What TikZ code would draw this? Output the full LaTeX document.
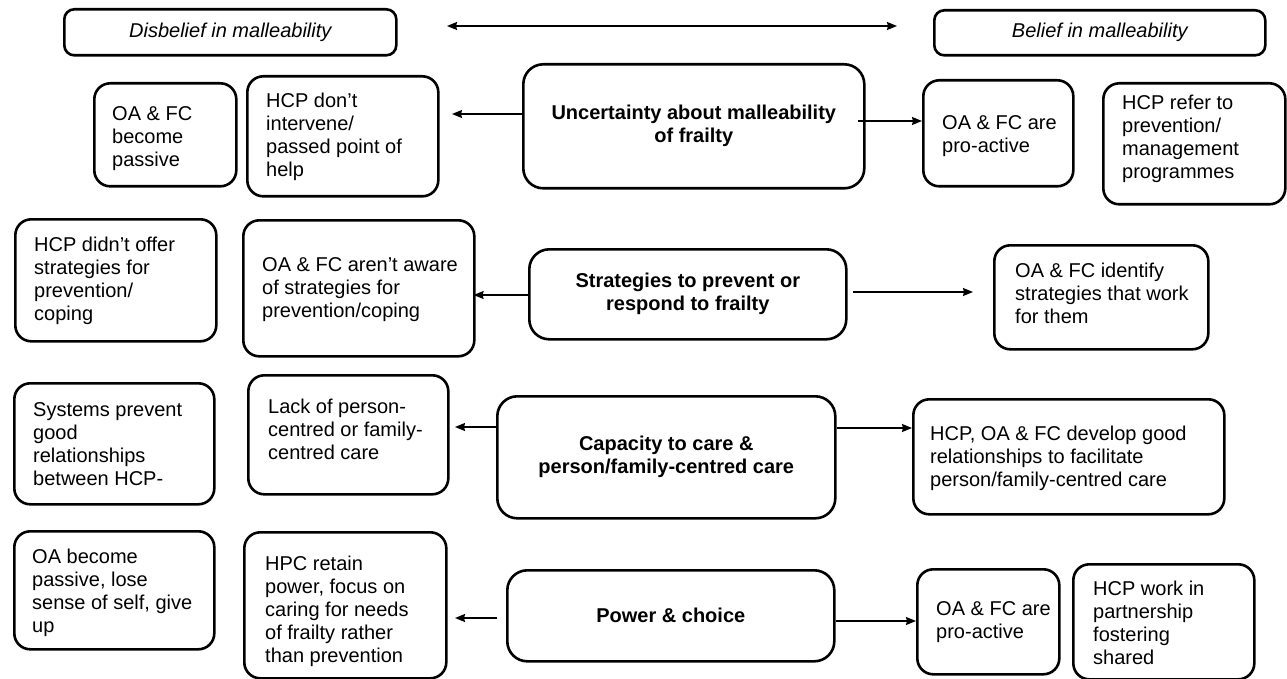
\documentclass[tikz,border=0pt]{standalone}
\usepackage{fontspec}
\setmainfont{Liberation Sans}
\usetikzlibrary{arrows.meta}
\tikzset{
 box/.style={draw, line width=2.6pt, rounded corners=16pt, inner sep=0pt, anchor=north west},
 hdr/.style={box, rounded corners=10pt, font=\fontsize{20}{23}\selectfont\itshape},
 core/.style={box, rounded corners=20pt, align=center, font=\fontsize{20}{23}\selectfont\bfseries},
 txt/.style={anchor=west, align=left, inner sep=0pt, font=\fontsize{20}{23}\selectfont},
 tip/.tip={Stealth[length=10pt,width=8pt,inset=1pt]},
 arr/.style={line width=1.5pt, -tip},
 dbl/.style={line width=1.5pt, tip-tip},
}
\begin{document}
\begin{tikzpicture}[x=1pt,y=1pt]
\useasboundingbox (0,0) rectangle (1287,-679);

% headers
\node[hdr, minimum width=332pt, minimum height=46pt] (dis) at (63,-8) {Disbelief in malleability};
\node[hdr, minimum width=331pt, minimum height=45pt] (bel) at (933,-9) {Belief in malleability};
\coordinate (hl) at (447,-26);
\coordinate (hr) at (897,-26);
\draw[dbl] (hl) -- (hr);

% row 1
\node[box, minimum width=142pt, minimum height=103pt] (r1a) at (93,-82) {};
\node[txt] (r1at) at (112,-139) {OA \& FC\\become\\passive};
\node[box, minimum width=191pt, minimum height=120pt] (r1b) at (246,-75) {};
\node[txt] (r1bt) at (266,-137) {HCP don’t\\intervene/\\passed point of\\help};
\node[core, minimum width=341pt, minimum height=124pt] (unc) at (522,-63) {Uncertainty about malleability\\of frailty};
\node[box, minimum width=150pt, minimum height=106pt] (r1c) at (922,-79) {};
\node[txt] (r1ct) at (942,-136) {OA \& FC are\\pro-active};
\node[box, minimum width=182pt, minimum height=121pt] (r1d) at (1102,-82) {};
\node[txt] (r1dt) at (1122,-139) {HCP refer to\\prevention/\\management\\programmes};

\coordinate (a1e) at (452,-114);
\draw[arr] (unc.west |- a1e) -- (a1e);
\coordinate (a2s) at (858,-121);
\draw[arr] (a2s) -- (r1c.west |- a2s);

% row 2
\node[box, minimum width=201pt, minimum height=122pt] (r2a) at (14,-218) {};
\node[txt] (r2at) at (34,-281) {HCP didn’t offer\\strategies for\\prevention/\\coping};
\node[box, minimum width=231pt, minimum height=136pt] (r2b) at (242,-219) {};
\node[txt] (r2bt) at (262,-290) {OA \& FC aren’t aware\\of strategies for\\prevention/coping};
\node[core, minimum width=317pt, minimum height=90pt] (strat) at (528,-248) {Strategies to prevent or\\respond to frailty};
\node[box, minimum width=214pt, minimum height=104pt] (r2c) at (993,-244) {};
\node[txt] (r2ct) at (1015,-293) {OA \& FC identify\\strategies that work\\for them};

\draw[arr] (strat.west |- 0,-295) -- ([xshift=-2pt]r2b.east |- 0,-295);
\coordinate (b2s) at (853,-292);
\coordinate (b2e) at (973,-292);
\draw[arr] (b2s) -- (b2e);

% row 3
\node[box, minimum width=200pt, minimum height=121pt] (r3a) at (13,-382) {};
\node[txt] (r3at) at (33,-444) {Systems prevent\\good\\relationships\\between HCP-};
\node[box, minimum width=200pt, minimum height=119pt] (r3b) at (247,-374) {};
\node[txt] (r3bt) at (268,-429) {Lack of person-\\centred or family-\\centred care};
\node[core, minimum width=338pt, minimum height=122pt] (cap) at (496,-395) {Capacity to care \&\\person/family-centred care};
\node[box, minimum width=311pt, minimum height=115pt] (r3c) at (912,-398) {};
\node[txt] (r3ct) at (930,-458) {HCP, OA \& FC develop good\\relationships to facilitate\\person/family-centred care};

\coordinate (c1e) at (455,-427);
\draw[arr] (cap.west |- c1e) -- (c1e);
\draw[arr] (cap.east |- 0,-428) -- (r3c.west |- 0,-428);

% row 4
\node[box, minimum width=200pt, minimum height=118pt] (r4a) at (13,-530) {};
\node[txt] (r4at) at (32,-593) {OA become\\passive, lose\\sense of self, give\\up};
\node[box, minimum width=202pt, minimum height=146pt] (r4b) at (243,-531) {};
\node[txt] (r4bt) at (265,-611) {HPC retain\\power, focus on\\caring for needs\\of frailty rather\\than prevention};
\node[core, minimum width=327pt, minimum height=91pt] (power) at (506,-569) {Power \& choice};
\node[box, minimum width=142pt, minimum height=105pt] (r4c) at (916,-568) {};
\node[txt] (r4ct) at (936,-622) {OA \& FC are\\pro-active};
\node[box, minimum width=181pt, minimum height=115pt] (r4d) at (1072,-563) {};
\node[txt] (r4dt) at (1093,-623) {HCP work in\\partnership\\fostering\\shared};

\coordinate (d1s) at (497,-618);
\coordinate (d1e) at (455,-618);
\draw[arr] (d1s) -- (d1e);
\draw[arr] (power.east |- 0,-621) -- (r4c.west |- 0,-621);
\end{tikzpicture}
\end{document}
